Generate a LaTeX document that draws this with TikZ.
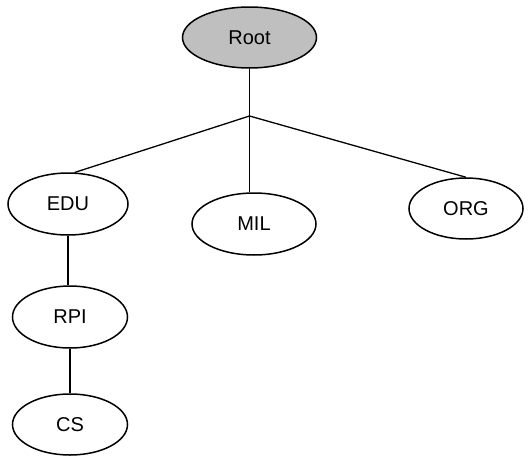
\documentclass[tikz,border=0pt]{standalone}
\usepackage{fontspec}
\setmainfont{Liberation Sans}
\usetikzlibrary{shapes.geometric}
\begin{document}
\begin{tikzpicture}[x=1pt,y=-1pt,
  dnsnode/.style={ellipse, draw=black, line width=1.5pt, inner sep=0pt,
    font=\fontsize{20}{24}\selectfont},
  link/.style={line width=1.3pt}]
\useasboundingbox (0,0) rectangle (531,458);
% domain name tree
\node[dnsnode, fill=black!25, minimum width=134pt, minimum height=61pt] (root) at (249.5,37.5) {Root};
\node[dnsnode, minimum width=120pt, minimum height=62pt] (edu) at (68,204) {EDU};
\node[dnsnode, minimum width=124pt, minimum height=62pt] (mil) at (254,224) {MIL};
\node[dnsnode, minimum width=114pt, minimum height=61pt] (org) at (466,208.5) {ORG};
\node[dnsnode, minimum width=115pt, minimum height=62pt] (rpi) at (70,317) {RPI};
\node[dnsnode, minimum width=115pt, minimum height=61pt] (cs) at (70,424.5) {CS};
% branch point under the root
\coordinate (fork) at (249.5,116);
\draw[link] (root.south) -- (fork);
\draw[link] (fork) -- (edu.78);
\draw[link] (fork) -- (fork |- mil.north);
\draw[link] (fork) -- (org.north);
\draw[link] (edu.south) -- (edu.south |- rpi.north);
\draw[link] (rpi.south) -- (rpi.south |- cs.north);
\end{tikzpicture}
\end{document}
